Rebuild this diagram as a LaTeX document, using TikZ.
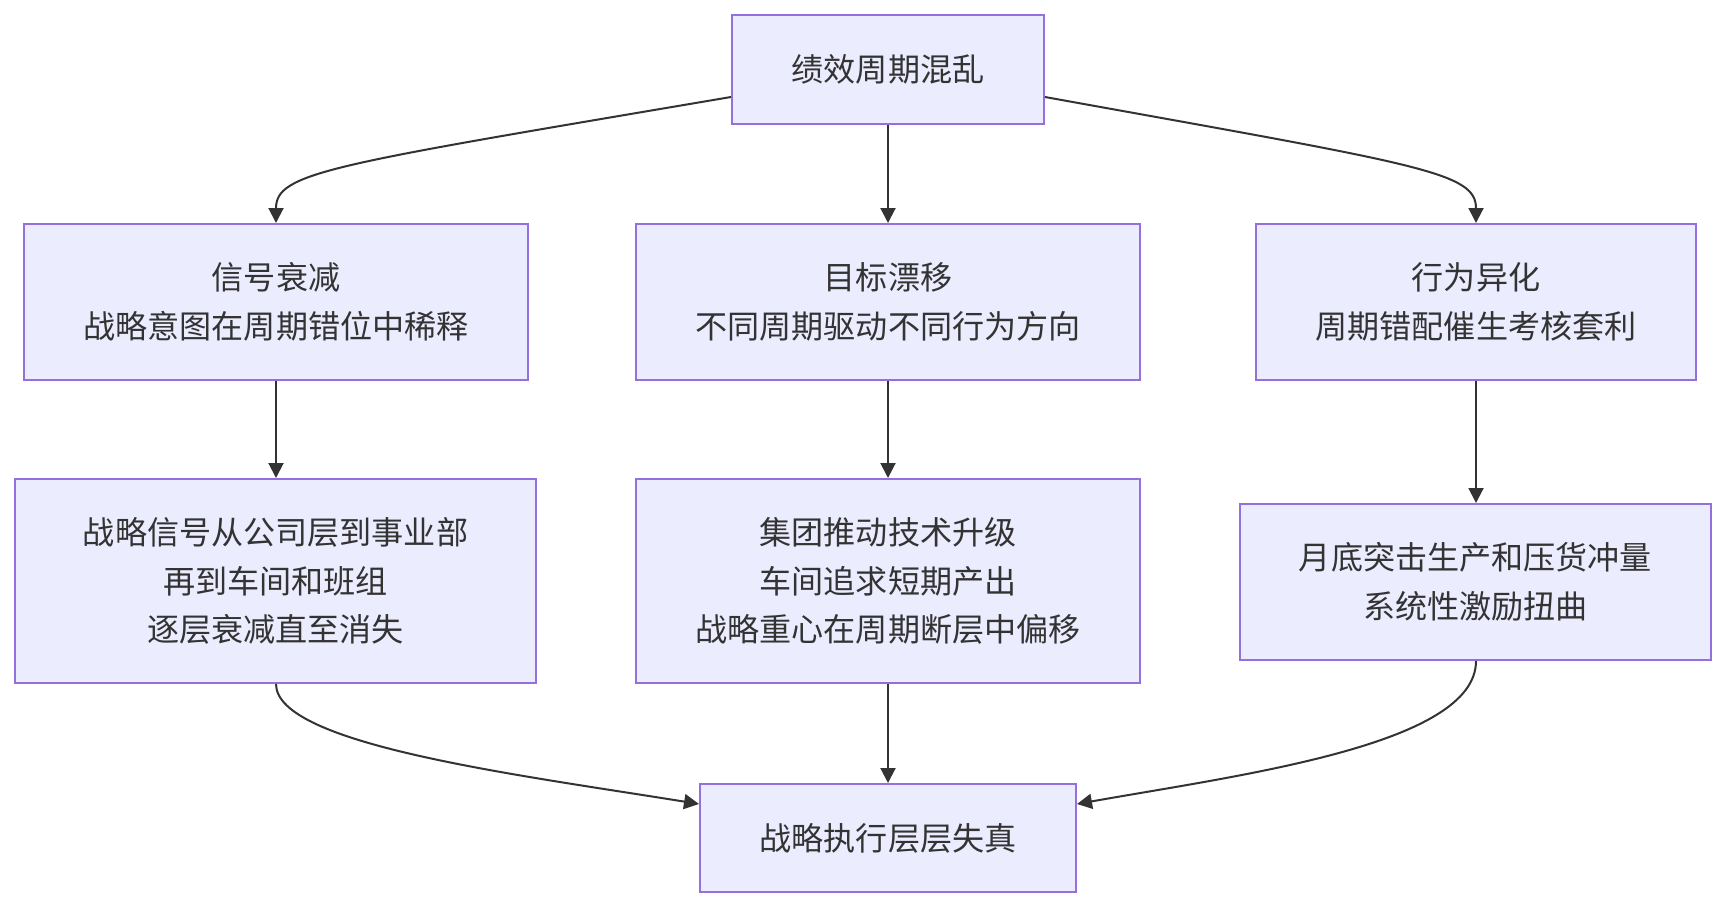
\documentclass[tikz,border=0pt]{standalone}
\usepackage{fontspec}
\setmainfont{Noto Sans CJK SC}
\usetikzlibrary{arrows.meta}
\definecolor{boxfill}{HTML}{ECECFF}
\definecolor{boxline}{HTML}{9370DB}
\definecolor{ink}{HTML}{333333}
\tikzset{
  box/.style={draw=boxline, fill=boxfill, line width=2pt, inner sep=0pt, align=center,
    text=ink, font=\fontsize{32.1}{48.5}\selectfont},
  conn/.style={draw=ink, line width=2pt, -{Triangle[length=15pt,width=15pt]}}
}
\begin{document}
\begin{tikzpicture}[x=1pt,y=-1pt]
\useasboundingbox[fill=white] (0,0) rectangle (1728,908);
\node[box, minimum width=312pt, minimum height=109pt] (A) at (888,69.5) {绩效周期混乱};
\node[box, minimum width=504pt, minimum height=156pt] (B1) at (276,302) {信号衰减\\战略意图在周期错位中稀释};
\node[box, minimum width=504pt, minimum height=156pt] (B2) at (888,302) {目标漂移\\不同周期驱动不同行为方向};
\node[box, minimum width=440pt, minimum height=156pt] (B3) at (1476,302) {行为异化\\周期错配催生考核套利};
\node[box, minimum width=521pt, minimum height=204pt] (C1) at (275.5,581) {战略信号从公司层到事业部\\再到车间和班组\\逐层衰减直至消失};
\node[box, minimum width=504pt, minimum height=204pt] (C2) at (888,581) {集团推动技术升级\\车间追求短期产出\\战略重心在周期断层中偏移};
\node[box, minimum width=471pt, minimum height=156pt] (C3) at (1475.5,582) {月底突击生产和压货冲量\\系统性激励扭曲};
\node[box, minimum width=376pt, minimum height=108pt] (D) at (888,838) {战略执行层层失真};

\draw[conn] (A.west |- 0,97) .. controls (330,165) and (276,172) .. (B1.north);
\draw[conn] (A.east |- 0,97) .. controls (1422,165) and (1476,172) .. (B3.north);
\draw[conn] (A.south) -- (B2.north);
\draw[conn] (B1.south) -- (C1.north -| B1.south);
\draw[conn] (B2.south) -- (C2.north);
\draw[conn] (B3.south) -- (C3.north -| B3.south);
\draw[conn] (C2.south) -- (D.north);
\draw[conn] (C1.south -| B1.south) .. controls (276,745) and (520,775) .. (D.west |- 0,804);
\draw[conn] (C3.south -| B3.south) .. controls (1476,745) and (1240,775) .. (D.east |- 0,804);
\end{tikzpicture}
\end{document}
